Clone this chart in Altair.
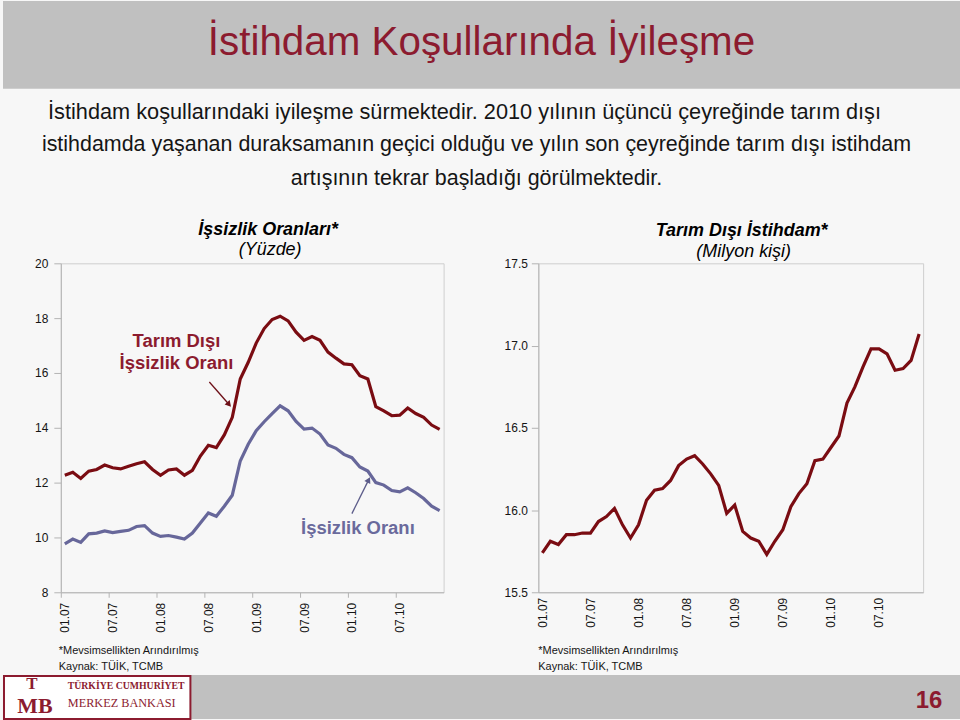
import json
import math
import altair as alt
import pandas as pd

# ---------------- data ----------------
tick_labels = ["01.07", "07.07", "01.08", "07.08", "01.09", "07.09", "01.10", "07.10"]
month_index = list(range(48))  # Jan 2007 .. Dec 2010

nonfarm_unemployment = [12.27, 12.38, 12.15, 12.42, 12.48, 12.64, 12.54, 12.50, 12.60, 12.69,
                        12.76, 12.48, 12.27, 12.46, 12.50, 12.27, 12.45, 12.97, 13.36, 13.28,
                        13.74, 14.38, 15.78, 16.39, 17.09, 17.62, 17.95, 18.07, 17.90, 17.49,
                        17.19, 17.33, 17.19, 16.76, 16.54, 16.33, 16.30, 15.90, 15.78, 14.77,
                        14.62, 14.44, 14.46, 14.72, 14.52, 14.38, 14.10, 13.94]
unemployment = [9.77, 9.94, 9.82, 10.13, 10.16, 10.24, 10.18, 10.22, 10.26, 10.40,
                10.43, 10.16, 10.04, 10.07, 10.01, 9.94, 10.16, 10.53, 10.89, 10.77,
                11.14, 11.54, 12.79, 13.40, 13.89, 14.22, 14.52, 14.80, 14.62, 14.23,
                13.95, 13.99, 13.77, 13.37, 13.25, 13.03, 12.91, 12.57, 12.42, 12.00,
                11.91, 11.71, 11.66, 11.81, 11.63, 11.42, 11.14, 10.98]
nonfarm_employment = [15.74, 15.81, 15.79, 15.85, 15.85, 15.86, 15.86, 15.93, 15.96, 16.01,
                      15.91, 15.83, 15.91, 16.06, 16.12, 16.13, 16.18, 16.27, 16.31, 16.33,
                      16.28, 16.22, 16.15, 15.98, 16.03, 15.87, 15.83, 15.81, 15.73, 15.81,
                      15.88, 16.02, 16.10, 16.16, 16.30, 16.31, 16.38, 16.45, 16.65, 16.75,
                      16.87, 16.98, 16.98, 16.95, 16.85, 16.86, 16.91, 17.07]

series_names = ["Tarım Dışı İşsizlik Oranı", "İşsizlik Oranı"]

# ---------------- style ----------------
FONT = "Liberation Sans"
SERIF = "Liberation Serif"
BG = "#f7f7f7"
BANNER = "#c0c0c0"
TITLE_RED = "#8c1b2f"
LINE_RED = "#7a0c12"
LINE_BLUE = "#67679a"
AXIS_GREY = "#b4b4b4"
TEXT = "#151515"

one = pd.DataFrame({"k": [0]})


def txt(text, x, y, size, color=TEXT, weight="normal", style="normal", align="center", font=FONT):
    return alt.Chart(pd.DataFrame({"t": [text]})).mark_text(
        align=align, baseline="middle", fontSize=size, fontWeight=weight,
        fontStyle=style, font=font, color=color
    ).encode(x=alt.value(x), y=alt.value(y), text="t:N")


def box(x, x2, y, y2, fill, stroke=None, sw=0):
    kw = dict(fill=fill)
    if stroke:
        kw.update(stroke=stroke, strokeWidth=sw)
    return alt.Chart(one).mark_rect(**kw).encode(
        x=alt.value(x), x2=alt.value(x2), y=alt.value(y), y2=alt.value(y2))


def spacer(w, h):
    return alt.Chart(one).mark_point(opacity=0).encode(
        x=alt.value(0), y=alt.value(0)).properties(width=w, height=h)


# ---------------- header ----------------
header = alt.layer(
    box(0, 960, 0, 88, BANNER),
    txt("İstihdam Koşullarında İyileşme", 480, 42, 40.5, color=TITLE_RED),
    txt("İstihdam koşullarındaki iyileşme sürmektedir. 2010 yılının üçüncü çeyreğinde tarım dışı", 463, 111, 21.8),
    txt("istihdamda yaşanan duraksamanın geçici olduğu ve yılın son çeyreğinde tarım dışı istihdam", 475, 144, 21.5),
    txt("artışının tekrar başladığı görülmektedir.", 475, 178, 21.5),
    txt("İşsizlik Oranları*", 266, 230, 18, color="#000", weight="bold", style="italic"),
    txt("(Yüzde)", 268, 250, 18, color="#000", style="italic"),
    txt("Tarım Dışı İstihdam*", 741, 231, 18, color="#000", weight="bold", style="italic"),
    txt("(Milyon kişi)", 743, 252, 18, color="#000", style="italic"),
).properties(width=960, height=263)

# ---------------- panels ----------------
label_expr = json.dumps(tick_labels) + "[round((datum.value + 0.5) / 6)]"


def x_enc(ticks=True):
    return alt.X("i:Q", title=None,
                 scale=alt.Scale(domain=[-0.5, 47.5], nice=False, zero=False),
                 axis=alt.Axis(values=[-0.5 + 6 * k for k in range(8)], labelExpr=label_expr,
                               labelAngle=270, labelOffset=4, labelPadding=5, labelFontSize=12,
                               labelFont=FONT, labelColor=TEXT, ticks=ticks, tickSize=5,
                               tickColor=AXIS_GREY, domainColor=AXIS_GREY, grid=False))


PW_L, PW_R, PH = 384, 386, 330

dfL = pd.DataFrame({
    "i": month_index * 2,
    "v": nonfarm_unemployment + unemployment,
    "s": [series_names[0]] * 48 + [series_names[1]] * 48,
})

lines_left = alt.Chart(dfL).mark_line(strokeWidth=3.2).encode(
    x=x_enc(True),
    y=alt.Y("v:Q", title=None, scale=alt.Scale(domain=[8, 20], nice=False, zero=False),
            axis=alt.Axis(values=[8, 10, 12, 14, 16, 18, 20], labelFontSize=12, labelFont=FONT,
                          labelColor=TEXT, tickSize=7, tickColor=AXIS_GREY, domainColor=AXIS_GREY,
                          labelPadding=6, grid=False)),
    color=alt.Color("s:N", scale=alt.Scale(domain=series_names, range=[LINE_RED, LINE_BLUE]), legend=None),
    detail="s:N",
)

# annotations (data coordinates)
ann_text = pd.DataFrame({
    "i": [14.0, 14.0, 36.75],
    "v": [17.16, 16.36, 10.36],
    "t": ["Tarım Dışı", "İşsizlik Oranı", "İşsizlik Oranı"],
    "c": [TITLE_RED, TITLE_RED, "#6a6a9c"],
})
ann_layer = alt.Chart(ann_text).mark_text(fontSize=18.5, fontWeight="bold", font=FONT).encode(
    x="i:Q", y="v:Q", text="t:N", color=alt.Color("c:N", scale=None))


def arrow(x0, y0, x1, y1, color, angle):
    d = pd.DataFrame({"x": [x0], "y": [y0], "x2": [x1], "y2": [y1]})
    r = alt.Chart(d).mark_rule(color=color, strokeWidth=1.3).encode(x="x:Q", y="y:Q", x2="x2:Q", y2="y2:Q")
    h = alt.Chart(d).mark_point(shape="triangle-up", filled=True, size=45, color=color,
                                angle=angle, opacity=1).encode(x="x2:Q", y="y2:Q")
    return r + h


def ang(dx_units, dy_units, sx, sy):
    dx = dx_units * sx
    dy = -dy_units * sy
    return (math.degrees(math.atan2(dx, -dy)) + 360) % 360


sxL, syL = PW_L / 48.0, PH / 12.0
a1 = ang(20.6 - 18.125, 14.85 - 15.67, sxL, syL)
a2 = ang(38.1 - 36.0, 12.1 - 10.87, sxL, syL)

left = alt.layer(
    lines_left,
    ann_layer,
    arrow(18.125, 15.67, 20.6, 14.85, "#6e1018", a1),
    arrow(36.0, 10.87, 38.1, 12.1, "#5c5c8a", a2),
).properties(width=PW_L, height=PH, view=alt.ViewBackground(stroke="#cfcfcf", strokeWidth=1))

dfR = pd.DataFrame({"i": month_index, "v": nonfarm_employment})
right = alt.Chart(dfR).mark_line(strokeWidth=3.2, color=LINE_RED).encode(
    x=x_enc(False),
    y=alt.Y("v:Q", title=None, scale=alt.Scale(domain=[15.5, 17.5], nice=False, zero=False),
            axis=alt.Axis(values=[15.5, 16.0, 16.5, 17.0, 17.5], format=".1f", labelFontSize=12,
                          labelFont=FONT, labelColor=TEXT, tickSize=7, tickColor=AXIS_GREY,
                          domainColor=AXIS_GREY, labelPadding=4, grid=False)),
).properties(width=PW_R, height=PH, view=alt.ViewBackground(stroke="#cfcfcf", strokeWidth=1))

middle = alt.hconcat(spacer(58, PH), left, spacer(95, PH), right, spacing=0, bounds="flush")

# ---------------- footer ----------------
footer = alt.layer(
    txt("*Mevsimsellikten Arındırılmış", 56, 59, 11, align="left"),
    txt("Kaynak: TÜİK, TCMB", 56, 75, 11, align="left"),
    txt("*Mevsimsellikten Arındırılmış", 537, 59, 11, align="left"),
    txt("Kaynak: TÜİK, TCMB", 537, 75, 11, align="left"),
    box(188, 960, 83, 127, BANNER),
    box(1, 188, 84, 127, "#ffffff", stroke=TITLE_RED, sw=2),
    txt("T", 29, 92, 17, color=TITLE_RED, weight="bold", font=SERIF),
    txt("MB", 32, 114, 22, color=TITLE_RED, weight="bold", font=SERIF),
    txt("TÜRKİYE CUMHURİYET", 65, 94, 9.8, color=TITLE_RED, weight="bold", align="left", font=SERIF),
    txt("MERKEZ BANKASI", 65, 111, 12.3, color=TITLE_RED, align="left", font=SERIF),
    txt("16", 929, 109, 24, color=TITLE_RED, weight="bold"),
).properties(width=960, height=127)

# the nested row contributes no height under flush bounds, so a blank spacer reserves it
chart = alt.vconcat(header, middle, spacer(960, PH), footer, spacing=0, bounds="flush").properties(
    padding=0, background=BG
).configure_view(stroke=None)

chart.save("out.html", embed_options={"renderer": "svg", "actions": False})
